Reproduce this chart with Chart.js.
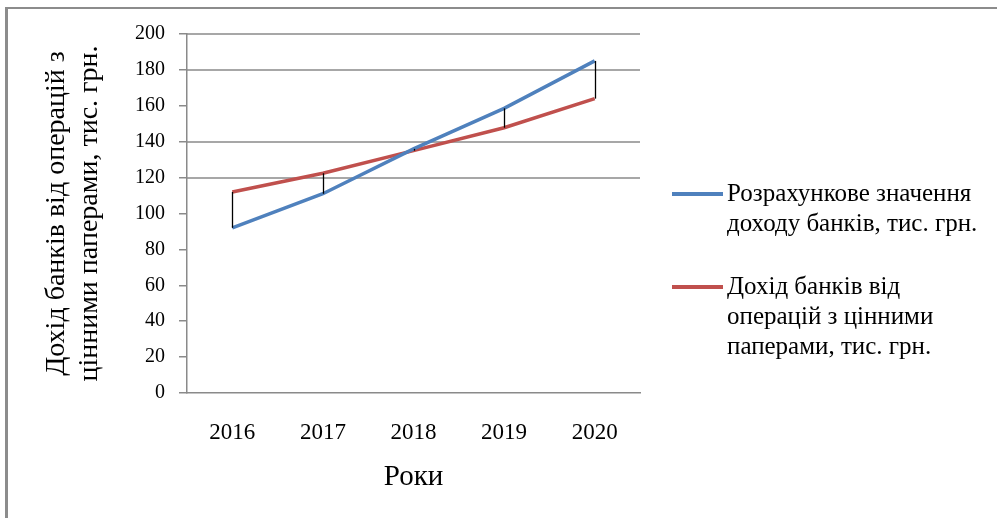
<!DOCTYPE html>
<html><head><meta charset="utf-8">
<script src="https://cdn.jsdelivr.net/npm/chart.js@4"></script>
<style>
html,body{margin:0;padding:0;background:#fff;}
#wrap{position:relative;width:997px;height:518px;overflow:hidden;}
#frame{position:absolute;left:5px;top:7px;right:0;bottom:0;border-top:2px solid #8c8c8c;border-left:3px solid #8c8c8c;pointer-events:none;}
</style></head><body>
<div id="wrap"><canvas id="c" width="997" height="518"></canvas><div id="frame"></div></div>
<script>
// ---- data ----
const years = ['2016', '2017', '2018', '2019', '2020'];
const calculatedIncome = [92, 111, 136, 158.6, 185];
const actualIncome = [112, 122.4, 135, 147.8, 164];
const seriesLabels = [
  ['Розрахункове значення', 'доходу банків, тис. грн.'],
  ['Дохід банків від', 'операцій з цінними', 'паперами, тис. грн.']
];
const yTitleLines = ['Дохід банків від операцій з', 'цінними паперами, тис. грн.'];
const xTitle = 'Роки';
const yMin = 0, yMax = 200, yStep = 20;
const gridShown = [120, 140, 180, 200];

const BLUE = '#4F81BD', RED = '#C0504D', GRAY = '#8a8a8a';
const FONT = "'Liberation Serif', 'Times New Roman', serif";

// horizontal gridlines only at the values visible in the original picture
const partialGrid = {
  id: 'partialGrid',
  beforeDatasetsDraw(chart) {
    const ctx = chart.ctx, ca = chart.chartArea, ys = chart.scales.y;
    ctx.save();
    ctx.strokeStyle = GRAY;
    ctx.lineWidth = 1.5;
    gridShown.forEach(v => {
      const py = Math.round(ys.getPixelForValue(v));
      ctx.beginPath();
      ctx.moveTo(ca.left, py);
      ctx.lineTo(ca.right, py);
      ctx.stroke();
    });
    ctx.restore();
  }
};

const highLowPlugin = {
  id: 'highLow',
  afterDatasetsDraw(chart) {
    const m0 = chart.getDatasetMeta(0), m1 = chart.getDatasetMeta(1);
    const ctx = chart.ctx;
    ctx.save();
    ctx.strokeStyle = '#000';
    ctx.lineWidth = 1.3;
    m0.data.forEach((p, i) => {
      const q = m1.data[i];
      ctx.beginPath();
      ctx.moveTo(Math.round(p.x) + 0.5, p.y);
      ctx.lineTo(Math.round(p.x) + 0.5, q.y);
      ctx.stroke();
    });
    ctx.restore();
  }
};

const sideLegend = {
  id: 'sideLegend',
  afterDraw(chart) {
    const ctx = chart.ctx, ca = chart.chartArea;
    const x0 = ca.right + 32, x1 = ca.right + 83, tx = ca.right + 87;
    let y = 194;
    ctx.save();
    ctx.font = '25px ' + FONT;
    ctx.textBaseline = 'middle';
    ctx.textAlign = 'left';
    chart.data.datasets.forEach((ds, i) => {
      ctx.strokeStyle = ds.borderColor;
      ctx.lineWidth = 4;
      ctx.beginPath();
      ctx.moveTo(x0, y); ctx.lineTo(x1, y); ctx.stroke();
      ctx.fillStyle = '#000';
      seriesLabels[i].forEach((t, k) => ctx.fillText(t, tx, y + k * 30));
      y += seriesLabels[i].length * 30 + 33;
    });
    ctx.restore();
  }
};

new Chart(document.getElementById('c'), {
  type: 'line',
  data: {
    labels: years,
    datasets: [
      { label: seriesLabels[0].join(' '), data: calculatedIncome, borderColor: BLUE, backgroundColor: BLUE, borderWidth: 3.5, pointRadius: 0, tension: 0 },
      { label: seriesLabels[1].join(' '), data: actualIncome, borderColor: RED, backgroundColor: RED, borderWidth: 3.5, pointRadius: 0, tension: 0 }
    ]
  },
  options: {
    responsive: false,
    animation: false,
    devicePixelRatio: 1,
    layout: { padding: { left: 40, right: 357, top: 34, bottom: 0 } },
    plugins: { legend: { display: false }, tooltip: { enabled: false } },
    scales: {
      x: {
        offset: true,
        grid: { display: false, drawTicks: false },
        border: { display: true, color: GRAY, width: 1.5 },
        ticks: { font: { family: FONT, size: 23 }, color: '#000', padding: 26, maxRotation: 0 },
        title: { display: true, text: xTitle, font: { family: FONT, size: 29, lineHeight: 1.2 }, color: '#000', padding: { top: 0, bottom: 23 } },
        afterFit(s) { s.height = 125; }
      },
      y: {
        min: yMin, max: yMax,
        ticks: { stepSize: yStep, font: { family: FONT, size: 20 }, color: '#000', padding: 14 },
        grid: {
          color: 'rgba(0,0,0,0)',
          tickColor: GRAY, tickLength: 8, lineWidth: 1.5, drawTicks: true
        },
        border: { display: true, color: GRAY, width: 1.5 },
        title: { display: true, text: yTitleLines, font: { family: FONT, size: 28, lineHeight: 1.18 }, color: '#000', padding: { top: 0, bottom: 0 } },
        afterFit(s) { s.width = 147; }
      }
    }
  },
  plugins: [partialGrid, highLowPlugin, sideLegend]
});
</script>
</body></html>
